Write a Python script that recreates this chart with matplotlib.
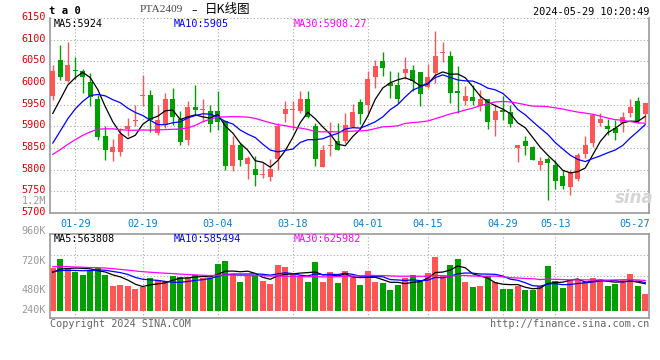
import numpy as np
import pandas as pd
import matplotlib
matplotlib.use('Agg')
import matplotlib.pyplot as plt
from matplotlib.transforms import ScaledTranslation

# PTA2409 daily K, 2024-01-24 .. 2024-05-29 (80 sessions)
opens = [5971, 6054, 6004, 6031, 6028, 6002, 5964, 5878, 5840, 5840,
         5895, 5912, 5969, 5973, 5885, 5904, 5964, 5917, 5869, 5944,
         5938, 5935, 5935, 5912, 5808, 5858, 5814, 5802, 5787, 5782,
         5825, 5928, 5937, 5936, 5962, 5900, 5806, 5854, 5867, 5867,
         5898, 5955, 5949, 6014, 6051, 5999, 5995, 6024, 6030, 6025,
         5991, 6024, 6070, 6062, 5981, 5959, 5968, 5947, 5963, 5915,
         5938, 5934, 5849, 5865, 5852, 5811, 5825, 5811, 5785, 5759,
         5778, 5836, 5862, 5907, 5901, 5897, 5907, 5930, 5958, 5928]
highs = [6042, 6088, 6095, 6060, 6033, 6023, 5973, 5900, 5871, 5896,
         5919, 5950, 6019, 5983, 5950, 5978, 5988, 5935, 5958, 5996,
         5964, 5950, 5981, 5915, 5877, 5862, 5832, 5831, 5815, 5825,
         5908, 5958, 5958, 5981, 5982, 5908, 5858, 5910, 5908, 5931,
         5951, 5963, 6028, 6053, 6071, 6028, 6025, 6059, 6041, 6026,
         6044, 6121, 6095, 6074, 6039, 5993, 5995, 5984, 5963, 5951,
         5970, 5949, 5857, 5878, 5855, 5830, 5830, 5822, 5799, 5799,
         5838, 5878, 5926, 5930, 5916, 5915, 5934, 5962, 5968, 5955]
lows = [5961, 6008, 6002, 6009, 5978, 5946, 5869, 5823, 5819, 5832,
        5877, 5900, 5946, 5888, 5881, 5896, 5904, 5856, 5856, 5927,
        5910, 5888, 5892, 5800, 5798, 5808, 5779, 5762, 5781, 5775,
        5800, 5910, 5892, 5931, 5919, 5809, 5806, 5832, 5845, 5862,
        5896, 5905, 5931, 5988, 6017, 5966, 5953, 6009, 5982, 5947,
        5988, 5999, 6049, 5954, 5931, 5949, 5949, 5935, 5895, 5878,
        5915, 5898, 5818, 5835, 5822, 5799, 5730, 5755, 5755, 5741,
        5774, 5826, 5853, 5901, 5880, 5868, 5888, 5922, 5907, 5909]
closes = [6028, 6013, 6042, 6027, 6013, 5967, 5875, 5845, 5853, 5883,
          5901, 5914, 5973, 5914, 5915, 5964, 5921, 5865, 5944, 5938,
          5941, 5906, 5909, 5809, 5858, 5823, 5826, 5787, 5791, 5802,
          5900, 5940, 5939, 5962, 5921, 5825, 5846, 5856, 5845, 5904,
          5932, 5928, 6009, 6039, 6034, 5993, 5962, 6032, 6005, 5975,
          6014, 6062, 6072, 5978, 5978, 5971, 5958, 5963, 5911, 5935,
          5932, 5906, 5856, 5855, 5822, 5820, 5815, 5774, 5762, 5792,
          5834, 5857, 5926, 5916, 5894, 5884, 5921, 5945, 5912, 5953]
volumes = [888, 1066, 875, 806, 738, 841, 875, 738, 513, 533,
           513, 451, 498, 683, 636, 615, 724, 703, 703, 738,
           670, 683, 964, 1025, 752, 601, 738, 738, 621, 554,
           943, 902, 785, 703, 601, 1011, 601, 800, 580, 820,
           697, 527, 820, 595, 574, 424, 527, 683, 732, 642,
           779, 1107, 732, 937, 1060, 595, 492, 506, 711, 595,
           445, 445, 513, 437, 437, 513, 916, 615, 472, 642,
           642, 595, 677, 629, 506, 547, 642, 752, 506, 342]  # thousand lots

# sessions before the window, only used to start the moving averages
prev_closes = [5683, 5682, 5697, 5713, 5727, 5696, 5815, 5853, 5943, 5932,
               5924, 5953, 5924, 5896, 5944, 5901, 5846, 5865, 5769, 5681,
               5736, 5759, 5799, 5838, 5833, 5851, 5877, 5941, 5952]
prev_volumes = [930, 1010, 980, 900, 1050, 940, 970, 880, 1000, 960,
                990, 920, 1030, 950, 900, 980, 1010, 940, 960, 905,
                860, 790, 840, 800, 805, 740, 810, 760, 767]

date_labels = ['01-29', '02-19', '03-04', '03-18', '04-01',
               '04-15', '04-29', '05-13', '05-27']
date_pos = [3, 12, 22, 32, 42, 50, 60, 67, 77]
price_ticks = [5700, 5750, 5800, 5850, 5900, 5950, 6000, 6050, 6100, 6150]
vol_labels = ['1.2M', '960K', '720K', '480K', '240K']

price_ma_text = ['MA5:5924', 'MA10:5905', 'MA30:5908.27']
vol_ma_text = ['MA5:563808', 'MA10:585494', 'MA30:625982']
ma_windows = [5, 10, 30]
ma_colors = ['black', '#0000ff', '#ff00ff']

RED = '#ff5555'
GREEN = '#00a000'
GRID = '#aaaaaa'
EDGE = '#999999'
MONO = 'DejaVu Sans Mono'

plt.rcParams['font.family'] = [MONO]

W, H = 660, 360


def px(x, y):
    # pixel position -> figure fraction
    return x / W, 1 - y / H


fig = plt.figure(figsize=(6.6, 3.6), dpi=100)
ax = fig.add_axes([50 / W, 1 - 213 / H, 599 / W, 195 / H])
axv = fig.add_axes([50 / W, 1 - 318 / H, 599 / W, 84 / H])

x = np.arange(len(closes))
o = np.array(opens, dtype=float)
c = np.array(closes, dtype=float)
colors = np.where(c >= o, RED, GREEN)

# candles
ax.vlines(x, lows, highs, colors=colors, lw=1, zorder=2)
body = np.maximum(np.abs(c - o), 2.5)
ax.bar(x, body, bottom=np.minimum(o, c), width=0.72, color=colors,
       linewidth=0, zorder=3)

n_prev = len(prev_closes)
all_close = pd.Series(prev_closes + closes, dtype=float)
all_vol = pd.Series(prev_volumes + volumes, dtype=float) * 1000
for w, col in zip(ma_windows, ma_colors):
    ax.plot(x, all_close.rolling(w).mean().values[n_prev:], color=col,
            lw=0.9, zorder=4)
    axv.plot(x, all_vol.rolling(w).mean().values[n_prev:], color=col,
             lw=0.9, zorder=4)

axv.bar(x, np.array(volumes) * 1000, width=0.8, color=colors, linewidth=0,
        zorder=2)

xlim = (-0.37, 79.5)
for a in (ax, axv):
    a.set_xlim(*xlim)
    for p in date_pos[:-1]:
        a.axvline(p, color=GRID, lw=0.8, ls=(0, (1, 2)), zorder=1)
    for s in a.spines.values():
        s.set_color(EDGE)
        s.set_linewidth(1.2)

# price axis
ax.set_ylim(5700, 6150)
ax.spines['top'].set_visible(False)
ax.set_yticks(price_ticks)
ax.set_yticklabels([str(t) for t in price_ticks], color='#e00000',
                   fontsize=7.3, family=MONO)
ax.tick_params(axis='y', length=0, pad=3)
for lab in ax.get_yticklabels():
    lab.set_transform(lab.get_transform() + ScaledTranslation(0, 2 / 100, fig.dpi_scale_trans))
for t in price_ticks[1:]:
    ax.axhline(t, color=GRID, lw=0.8, ls=(0, (1, 2)), zorder=1)

ax.set_xticks(date_pos)
ax.set_xticklabels(date_labels, color='#0a7fd0', fontsize=7.3, family=MONO)
ax.tick_params(axis='x', length=0, pad=4)
ax.get_xticklabels()[-1].set_transform(
    ax.get_xticklabels()[-1].get_transform() + ScaledTranslation(4 / 100, 0, fig.dpi_scale_trans))

# volume axis
vlo, vhi = -7 * 20500, 77 * 20500
axv.set_ylim(vlo, vhi)
axv.set_xticks([])
axv.set_yticks([])
for f in (0.25, 0.5, 0.75):
    axv.axhline(vlo + f * (vhi - vlo), color=GRID, lw=0.8, ls=(0, (1, 2)), zorder=1)
for lab, ypix in zip(vol_labels, [200.5, 231, 261, 290, 310]):
    fig.text(*px(46, ypix), lab, color='#999999', fontsize=7.3,
             ha='right', va='center')

# MA legends
for txt, col, xp in zip(price_ma_text, ma_colors, [54, 174, 294]):
    fig.text(*px(xp, 24), txt, color=col, fontsize=7.3, va='center')
for txt, col, xp in zip(vol_ma_text, ma_colors, [54, 174, 294]):
    fig.text(*px(xp, 239), txt, color=col, fontsize=7.3, va='center')

# header
fig.text(*px(49, 11.5), 't a 0', fontsize=7.6, weight='bold', va='center')
fig.text(*px(140, 10), 'PTA2409', fontsize=8.2, color='#444444',
         family='Liberation Serif', va='center')
fig.text(*px(194.5, 10), '\u2013', fontsize=8, color='black', ha='center',
         va='center', family='DejaVu Sans')
fig.text(*px(205, 10), '日K线图', fontsize=9, color='black', va='center',
         family=['Noto Sans CJK SC', 'DejaVu Sans'])
fig.text(*px(649, 12), '2024-05-29 10:20:49', fontsize=7.4, ha='right',
         va='center')

# footer and watermark
fig.text(*px(50, 324), 'Copyright 2024 SINA.COM', fontsize=7.3,
         color='#666666', va='center')
fig.text(*px(649, 324), 'http://finance.sina.com.cn', fontsize=7.3,
         color='#666666', ha='right', va='center')
fig.text(*px(634, 198), 'sina', fontsize=12, color='#d5d5d5', style='italic',
         weight='bold', ha='center', va='center', family='DejaVu Sans')

fig.savefig('out.png', dpi=100, facecolor='white')
